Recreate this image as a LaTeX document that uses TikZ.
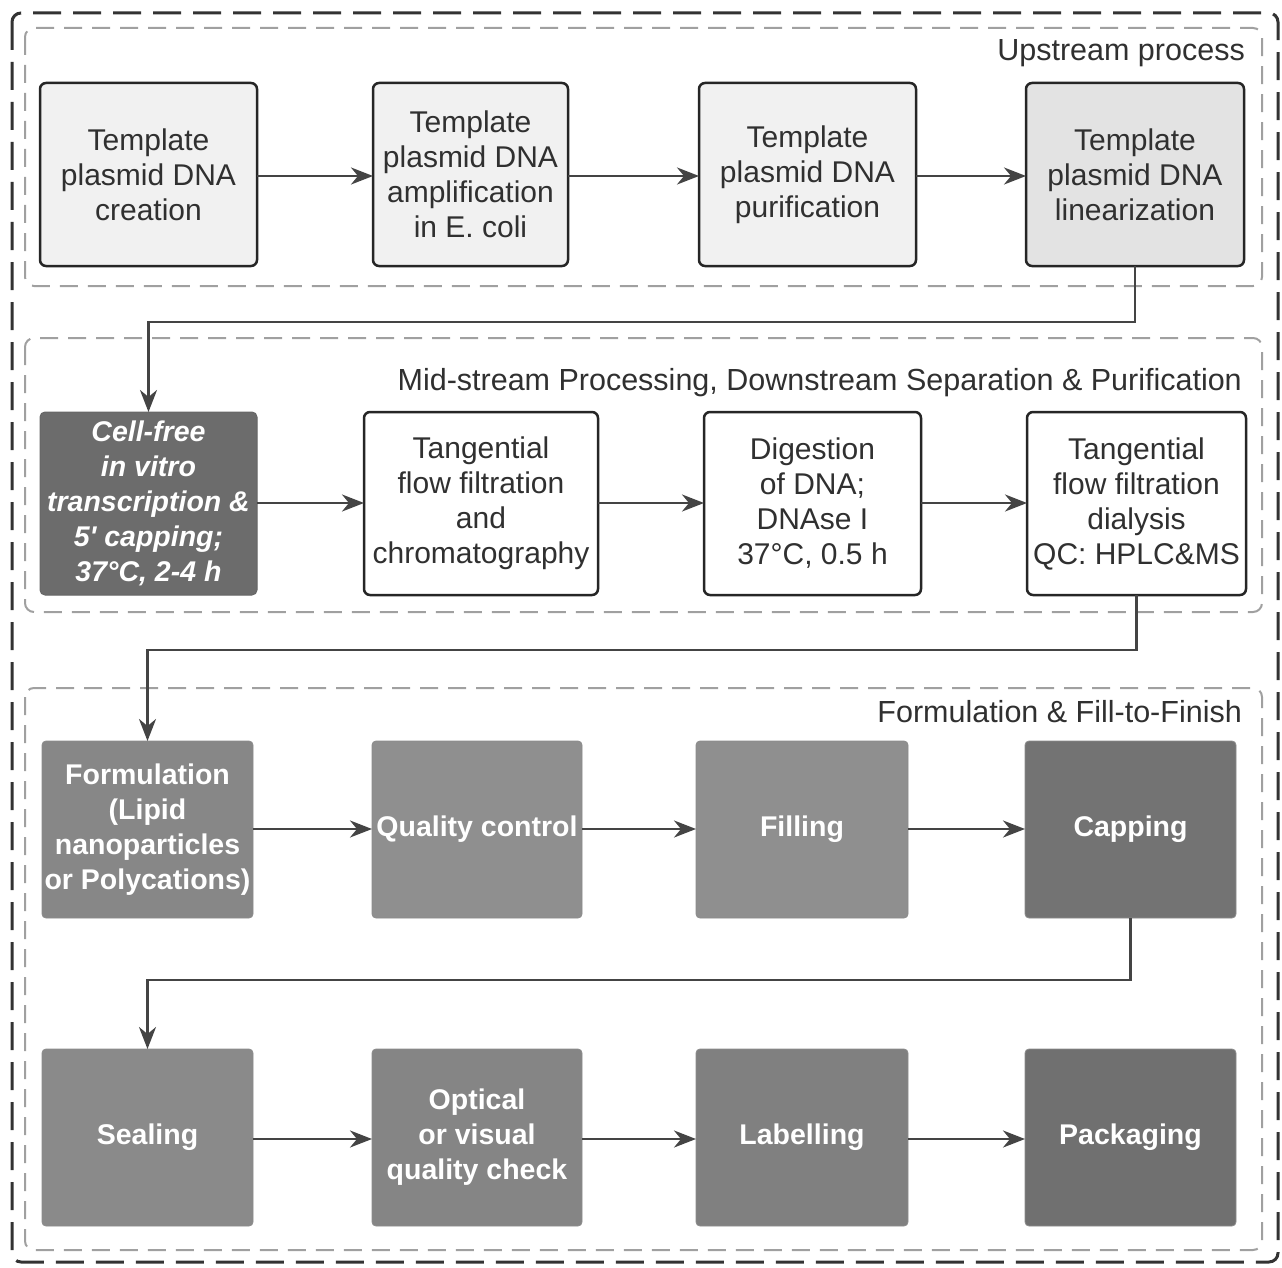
\documentclass[tikz,border=0pt]{standalone}
\usepackage{fontspec}
\setmainfont{Liberation Sans}
\newfontfamily\plainsans{Liberation Sans}
\usetikzlibrary{arrows.meta}
\definecolor{txt}{HTML}{303030}
\definecolor{lightfill}{HTML}{F1F1F1}
\definecolor{linfill}{HTML}{E3E3E3}
\definecolor{darkfill}{HTML}{6C6C6C}
\definecolor{grpline}{HTML}{A0A0A0}
\definecolor{arrowc}{HTML}{444444}
\tikzset{
  lightbox/.style={draw=black!85, line width=2.5pt, rounded corners=6pt, fill=lightfill,
    text=txt, align=center, inner sep=0pt, outer sep=0pt,
    font=\fontsize{30}{35}\selectfont},
  whitebox/.style={lightbox, fill=white},
  darkbox/.style={draw=black!60, line width=1pt, rounded corners=5pt, fill=darkfill,
    text=white, align=center, inner sep=0pt, outer sep=0pt,
    font=\fontsize{28.5}{35}\bfseries\itshape\selectfont},
  graybox/.style={draw=black!45, line width=0.8pt, rounded corners=4pt,
    text=white, align=center, inner sep=0pt, outer sep=0pt,
    font=\fontsize{28.5}{35}\bfseries\selectfont},
  flow/.style={draw=arrowc, line width=2.6pt,
    -{Stealth[length=22pt,width=17pt,inset=7pt]}},
  group/.style={draw=grpline, line width=2pt, dash pattern=on 18pt off 10pt, rounded corners=9pt},
  outer/.style={draw=black!80, line width=3pt, dash pattern=on 28pt off 12pt, rounded corners=9pt},
  grplabel/.style={anchor=east, text=txt, inner sep=0pt, font=\fontsize{30.5}{35}\selectfont}
}
\begin{document}
\begin{tikzpicture}[x=1pt,y=-1pt]
\useasboundingbox (0,0) rectangle (1282,1268);
\fill[white] (0,0) rectangle (1282,1268);
% frames
\draw[outer] (12,13) rectangle (1278,1262);
\draw[group] (25,28) rectangle (1262,286);
\draw[group] (25,338) rectangle (1262,612);
\draw[group] (25,688) rectangle (1262,1250);
\node[grplabel] (l1) at (1245,53) {Upstream process};
\node[grplabel] (l2) at (1242,383) {Mid-stream Processing, Downstream Separation \& Purification};
\node[grplabel] (l3) at (1242,712) {Formulation \& Fill-to-Finish};
% row 1
\node[lightbox, minimum width=217pt, minimum height=183pt] (b1) at (148.5,174.5) {Template\\plasmid DNA\\creation};
\node[lightbox, minimum width=195pt, minimum height=183pt] (b2) at (470.5,174.5) {Template\\plasmid DNA\\amplification\\in E. coli};
\node[lightbox, minimum width=217pt, minimum height=183pt] (b3) at (807.5,174.5) {Template\\plasmid DNA\\purification};
\node[lightbox, fill=linfill, minimum width=218pt, minimum height=183pt] (b4) at (1135,174.5) {Template\\plasmid DNA\\linearization};
% row 2
\node[darkbox, minimum width=217pt, minimum height=183pt] (b5) at (148.5,503.5) {Cell-free\\in vitro\\transcription \&\\5{\plainsans\bfseries\itshape '} capping;\\37°C, 2-4 h};
\node[whitebox, minimum width=234pt, minimum height=183pt] (b6) at (481,503.5) {Tangential\\flow filtration\\and\\chromatography};
\node[whitebox, minimum width=217pt, minimum height=183pt] (b7) at (812.5,503.5) {Digestion\\of DNA;\\DNAse I\\37°C, 0.5 h};
\node[whitebox, minimum width=219pt, minimum height=183pt] (b8) at (1136.5,503.5) {Tangential\\flow filtration\\dialysis\\QC: HPLC\&MS};
% row 3
\node[graybox, fill=black!47, minimum width=211pt, minimum height=177pt] (b9) at (147.5,829.5) {Formulation\\(Lipid\\nanoparticles\\or Polycations)};
\node[graybox, fill=black!44, minimum width=210pt, minimum height=177pt] (b10) at (477,829.5) {Quality control};
\node[graybox, fill=black!44, minimum width=212pt, minimum height=177pt] (b11) at (802,829.5) {Filling};
\node[graybox, fill=black!55, minimum width=211pt, minimum height=177pt] (b12) at (1130.5,829.5) {Capping};
% row 4
\node[graybox, fill=black!46, minimum width=211pt, minimum height=177pt] (b13) at (147.5,1137.5) {Sealing};
\node[graybox, fill=black!48, minimum width=210pt, minimum height=177pt] (b14) at (477,1137.5) {Optical\\or visual\\quality check};
\node[graybox, fill=black!50, minimum width=212pt, minimum height=177pt] (b15) at (802,1137.5) {Labelling};
\node[graybox, fill=black!56, minimum width=211pt, minimum height=177pt] (b16) at (1130.5,1137.5) {Packaging};
% arrows
\draw[flow] (b1.east |- 0,176) -- (b2.west |- 0,176);
\draw[flow] (b2.east |- 0,176) -- (b3.west |- 0,176);
\draw[flow] (b3.east |- 0,176) -- (b4.west |- 0,176);
\draw[flow] (b4.south) -- (b4.south |- 0,322) -| (b5.north);
\draw[flow] (b5.east |- 0,503) -- (b6.west |- 0,503);
\draw[flow] (b6.east |- 0,503) -- (b7.west |- 0,503);
\draw[flow] (b7.east |- 0,503) -- (b8.west |- 0,503);
\draw[flow] (b8.south) -- (b8.south |- 0,650) -| (b9.north);
\draw[flow] (b9.east |- 0,829) -- (b10.west |- 0,829);
\draw[flow] (b10.east |- 0,829) -- (b11.west |- 0,829);
\draw[flow] (b11.east |- 0,829) -- (b12.west |- 0,829);
\draw[flow] (b12.south) -- (b12.south |- 0,980) -| (b13.north);
\draw[flow] (b13.east |- 0,1139) -- (b14.west |- 0,1139);
\draw[flow] (b14.east |- 0,1139) -- (b15.west |- 0,1139);
\draw[flow] (b15.east |- 0,1139) -- (b16.west |- 0,1139);
\end{tikzpicture}
\end{document}
